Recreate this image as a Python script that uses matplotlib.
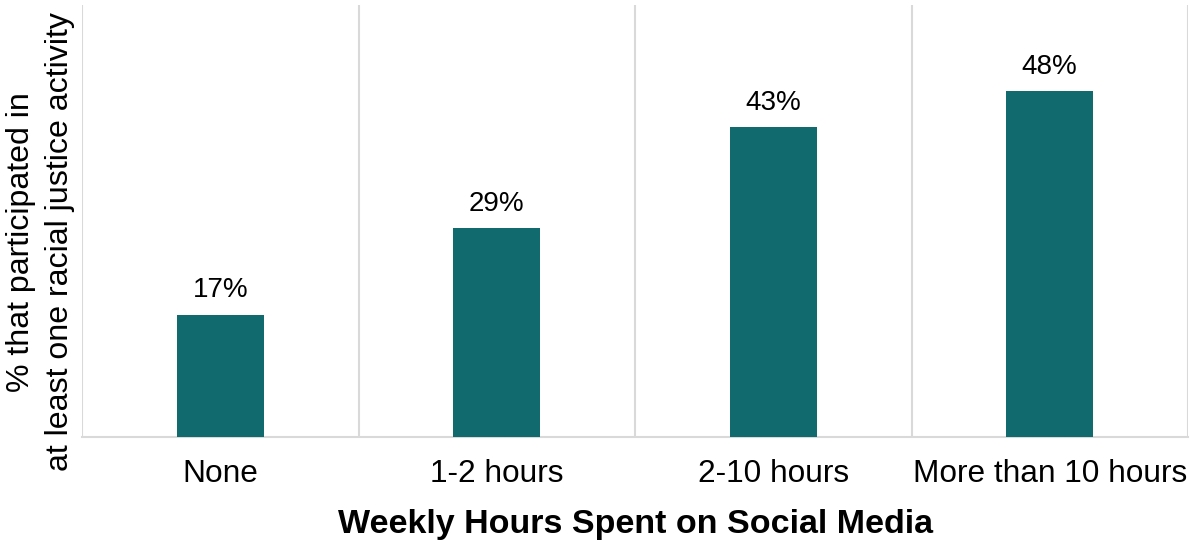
import matplotlib
matplotlib.use("Agg")
import matplotlib.pyplot as plt

categories = ["None", "1-2 hours", "2-10 hours", "More than 10 hours"]
values = [17, 29, 43, 48]
labels = ["17%", "29%", "43%", "48%"]

plt.rcParams['font.family'] = ['Liberation Sans', 'DejaVu Sans']

fig = plt.figure(figsize=(11.97, 5.42), dpi=100)
ax = fig.add_axes([82/1197, 1-437/542, (1188-82)/1197, (437-5)/542])

x = list(range(len(categories)))
bars = ax.bar(x, values, width=0.315, color="#116B6E", zorder=3)
ax.set_xlim(-0.5, len(categories) - 0.5)
ax.set_ylim(0, 60)

for xi, v, lab in zip(x, values, labels):
    ax.annotate(lab, (xi, v), xytext=(0, 8), textcoords="offset points",
                ha="center", va="bottom", fontsize=20, color="black")

# vertical separators between categories
for b in [i - 0.5 for i in range(len(categories) + 1)]:
    ax.axvline(b, color="#D9D9D9", lw=1.5, zorder=1)

for s in ["top", "right", "left"]:
    ax.spines[s].set_visible(False)
ax.spines["bottom"].set_color("#D9D9D9")
ax.spines["bottom"].set_linewidth(1.5)

ax.set_yticks([])
ax.set_xticks(x)
ax.set_xticklabels(categories, fontsize=22.8)
ax.tick_params(axis="x", length=0, pad=16)

ax.set_xlabel("Weekly Hours Spent on Social Media", fontsize=24.5, fontweight="bold", labelpad=14)
ax.set_ylabel("% that participated in\nat least one racial justice activity", fontsize=23.1, labelpad=5, linespacing=1.38)
ax.yaxis.set_label_coords(-7/1106, 0.452)

fig.savefig("out.png", dpi=100)
